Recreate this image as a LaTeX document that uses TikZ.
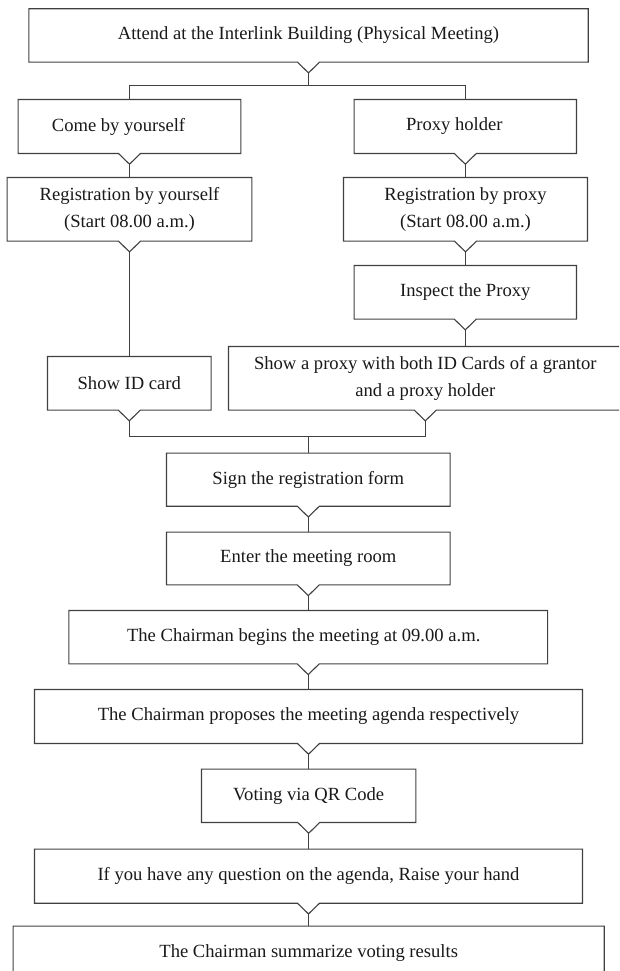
\documentclass[tikz,border=0pt]{standalone}
\usepackage{fontspec}
\setmainfont{Liberation Serif}
\usetikzlibrary{calc}
\tikzset{
  box/.style={draw=none, rectangle, inner sep=0pt, align=center, text=black!90,
    font=\fontsize{18.6}{27.5}\selectfont},
  boxline/.style={draw=black!75, line width=1.1pt, line join=miter},
  conn/.style={draw=black!75, line width=1.1pt},
}
\newcommand\nbox[1]{%
  \draw[boxline] (#1.south west) -- (#1.north west) -- (#1.north east) -- (#1.south east)
    -- ([xshift=11pt]#1.south) -- ([yshift=-10.7pt]#1.south) -- ([xshift=-11pt]#1.south) -- cycle;
  \coordinate (#1v) at ([yshift=-10.7pt]#1.south);}
\begin{document}
\begin{tikzpicture}[x=1pt,y=1pt]
\useasboundingbox (0,0) rectangle (619,-971);
\clip (0,0) rectangle (619,-971);
\node[box, minimum width=559pt, minimum height=53pt] (top) at (308.5,-35.5) {Attend at the Interlink Building (Physical Meeting)};
\node[box, minimum width=222.4pt, minimum height=53.6pt] (come) at (129.5,-126.5) {\hspace*{-22pt}Come by yourself};
\node[box, minimum width=222pt, minimum height=53.6pt] (proxy) at (465.3,-126.5) {\hspace*{-22pt}Proxy holder};
\node[box, minimum width=244.4pt, minimum height=63.3pt] (regself) at (129.5,-209.3) {Registration by yourself\\(Start 08.00 a.m.)};
\node[box, minimum width=243.6pt, minimum height=63.3pt] (regproxy) at (465.5,-209.3) {Registration by proxy\\(Start 08.00 a.m.)};
\node[box, minimum width=222pt, minimum height=53.3pt] (inspect) at (465.3,-292.3) {Inspect the Proxy};
\node[box, minimum width=393.3pt, minimum height=63.3pt] (showproxy) at (425.3,-378.3) {Show a proxy with both ID Cards of a grantor\\and a proxy holder};
\node[box, minimum width=163.3pt, minimum height=53.3pt] (idcard) at (129.3,-383.3) {Show ID card};
\node[box, minimum width=283.3pt, minimum height=52.7pt] (sign) at (308.3,-479.7) {Sign the registration form};
\node[box, minimum width=283.3pt, minimum height=52.4pt] (enter) at (308.3,-558.5) {Enter the meeting room};
\node[box, minimum width=478.3pt, minimum height=53pt] (begins) at (308.2,-637.2) {\hspace*{-9pt}The Chairman begins the meeting at 09.00 a.m.};
\node[box, minimum width=547.6pt, minimum height=53.6pt] (proposes) at (308.5,-716.5) {The Chairman proposes the meeting agenda respectively};
\node[box, minimum width=214pt, minimum height=53pt] (voting) at (308.7,-795.8) {Voting via QR Code};
\node[box, minimum width=547.6pt, minimum height=53.7pt] (question) at (308.5,-876.2) {If you have any question on the agenda, Raise your hand};
\node[box, minimum width=590.7pt, minimum height=53pt] (summ) at (308.7,-952.8) {The Chairman summarize voting results};
\foreach \n in {top,come,proxy,regself,regproxy,inspect,showproxy,idcard,sign,enter,begins,proposes,voting,question,summ}{\nbox{\n}}
% branching at top
\coordinate (split) at ($(topv)+(0,-12.6)$);
\draw[conn] (topv) -- (split);
\draw[conn] (split) -| (come.north);
\draw[conn] (split) -| (proxy.north);
% straight connectors
\draw[conn] (comev) -- (comev |- regself.north);
\draw[conn] (proxyv) -- (proxyv |- regproxy.north);
\draw[conn] (regselfv) -- (regselfv |- idcard.north);
\draw[conn] (regproxyv) -- (regproxyv |- inspect.north);
\draw[conn] (inspectv) -- (inspectv |- showproxy.north);
% merge
\coordinate (merge) at ($(idcardv)+(0,-16)$);
\draw[conn] (idcardv) -- (merge) -| (showproxyv);
\draw[conn] (sign.north) -- (sign.north |- merge);
\draw[conn] (signv) -- (signv |- enter.north);
\draw[conn] (enterv) -- (enterv |- begins.north);
\draw[conn] (beginsv) -- (beginsv |- proposes.north);
\draw[conn] (proposesv) -- (proposesv |- voting.north);
\draw[conn] (votingv) -- (votingv |- question.north);
\draw[conn] (questionv) -- (questionv |- summ.north);
\end{tikzpicture}
\end{document}
